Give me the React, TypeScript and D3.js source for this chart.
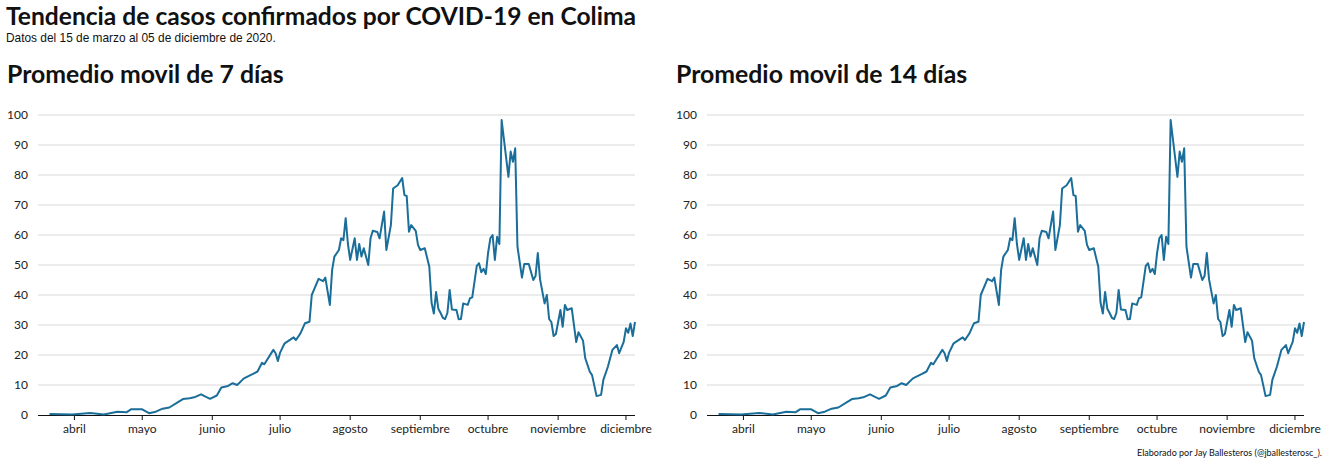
import React from "react";
import * as d3 from "d3";

const startDate = new Date(2020, 2, 15);
const endDate = new Date(2020, 11, 5);
// days since 15 March and 7-day moving average
const dayOffsets = [6, 16, 24, 30, 36, 40, 42, 47, 50, 53, 56, 59, 63, 65, 68, 70, 73, 75, 77, 80, 82, 85, 87, 89, 92, 96, 98, 100, 101, 105, 106, 107, 108, 110, 114, 115, 117, 119, 121, 122, 125, 127, 128, 130, 131, 132, 134, 135, 136, 137, 138, 139, 141, 142, 143, 144, 145, 147, 148, 149, 151, 152, 154, 155, 157, 158, 160, 162, 163, 164, 165, 166, 168, 169, 170, 172, 174, 175, 176, 177, 178, 179, 180, 181, 182, 183, 184, 186, 187, 188, 189, 191, 192, 193, 195, 196, 197, 198, 199, 200, 201, 202, 203, 204, 205, 206, 207, 209, 210, 211, 212, 213, 215, 216, 218, 220, 221, 222, 223, 225, 226, 227, 228, 229, 230, 232, 233, 234, 235, 237, 239, 240, 242, 243, 245, 246, 248, 250, 251, 253, 255, 257, 258, 260, 261, 262, 263, 264, 265];
const values = [0.3, 0.2, 0.7, 0.2, 1.1, 0.9, 1.9, 1.9, 0.6, 1.1, 2.1, 2.5, 4.4, 5.3, 5.6, 5.9, 6.9, 6.1, 5.4, 6.5, 9.2, 9.7, 10.6, 10, 12.2, 13.7, 14.5, 17.4, 16.9, 21.7, 20.6, 18, 20.8, 23.9, 25.9, 25, 27.2, 30.6, 31.1, 40, 45.4, 44.6, 45.8, 36.7, 48.3, 52.8, 55, 58.9, 58.3, 65.6, 57, 51.7, 58.9, 51.7, 57, 52.8, 55.6, 50, 58.9, 61.4, 61, 58.9, 67.8, 55, 63.3, 75.5, 76.6, 79, 73.3, 73, 61.1, 63.3, 61.4, 56.7, 55, 55.6, 49.4, 37.4, 33.8, 41, 35.4, 34, 32.4, 32, 34, 41.7, 35.2, 35, 31.9, 32, 37.2, 36.7, 38.9, 39.2, 49.7, 50.6, 47.6, 48.7, 47, 54, 58.9, 60, 51.7, 59.4, 57, 98.3, 92, 79.4, 87.8, 84.4, 88.9, 56.1, 45.8, 50.3, 50.3, 45, 46.3, 54, 45.2, 37.2, 40, 32, 31, 26.3, 27, 35, 29.4, 36.7, 35, 35.6, 24.3, 27.6, 24.8, 18.9, 14.4, 13.3, 6.3, 6.7, 11.7, 16.1, 21.7, 23.3, 20.6, 24.4, 28.9, 27.4, 30.5, 26.3, 31];
const yTicks = [0, 10, 20, 30, 40, 50, 60, 70, 80, 90, 100];
const monthNames = ["abril", "mayo", "junio", "julio", "agosto", "septiembre", "octubre", "noviembre", "diciembre"];
const panelTitles = ["Promedio movil de 7 días", "Promedio movil de 14 días"];

const data = dayOffsets.map((d, i) => ({ date: d3.timeDay.offset(startDate, d), value: values[i] }));
const months = monthNames.map((m, i) => ({ label: m, date: new Date(2020, 3 + i, 1) }));

const lato = "Lato, sans-serif";

function Panel({ title, dx }: { title: string; dx: number }) {
  const x = d3.scaleTime().domain([startDate, endDate]).range([36, 635]);
  const y = d3.scaleLinear().domain([0, 100]).range([415, 115]);
  const line = d3.line<{ date: Date; value: number }>().x(d => x(d.date)).y(d => y(d.value));
  return (
    <g transform={`translate(${dx},0)`}>
      <text x={7} y={83} fontFamily={lato} fontWeight={700} fontSize={24.8} fill="#111">{title}</text>
      {yTicks.map(t => (
        <g key={t}>
          {t > 0 && <line x1={38} x2={635} y1={y(t)} y2={y(t)} stroke="#d9d9d9" strokeWidth={1} />}
          <text x={28} y={y(t) + 4} textAnchor="end" fontFamily={lato} fontSize={12} fill="#222">{t}</text>
        </g>
      ))}
      <line x1={38} x2={635} y1={415.5} y2={415.5} stroke="#111" strokeWidth={1.2} />
      {months.map(m => (
        <g key={m.label}>
          <line x1={x(m.date)} x2={x(m.date)} y1={415} y2={420} stroke="#111" />
          <text x={x(m.date)} y={433} textAnchor="middle" fontFamily={lato} fontSize={12} fill="#222">{m.label}</text>
        </g>
      ))}
      <path d={line(data) || ""} fill="none" stroke="#1a6e99" strokeWidth={2} strokeLinejoin="round" />
    </g>
  );
}

export default function App() {
  return (
    <div style={{ position: "absolute", left: 0, top: 0 }}>
      <svg width={1328} height={464} style={{ display: "block", background: "#fff" }}>
        <text x={6} y={25} fontFamily={lato} fontWeight={700} fontSize={24.6} fill="#111">Tendencia de casos confirmados por COVID-19 en Colima</text>
        <text x={6} y={42} fontFamily="'Liberation Sans', Arial, sans-serif" fontSize={11.9} fill="#111">Datos del 15 de marzo al 05 de diciembre de 2020.</text>
        {panelTitles.map((t, i) => <Panel key={t} title={t} dx={i * 669} />)}
        <text x={1322} y={456} textAnchor="end" fontFamily={lato} fontSize={9} fill="#111">Elaborado por Jay Ballesteros (@jballesterosc_).</text>
      </svg>
    </div>
  );
}
